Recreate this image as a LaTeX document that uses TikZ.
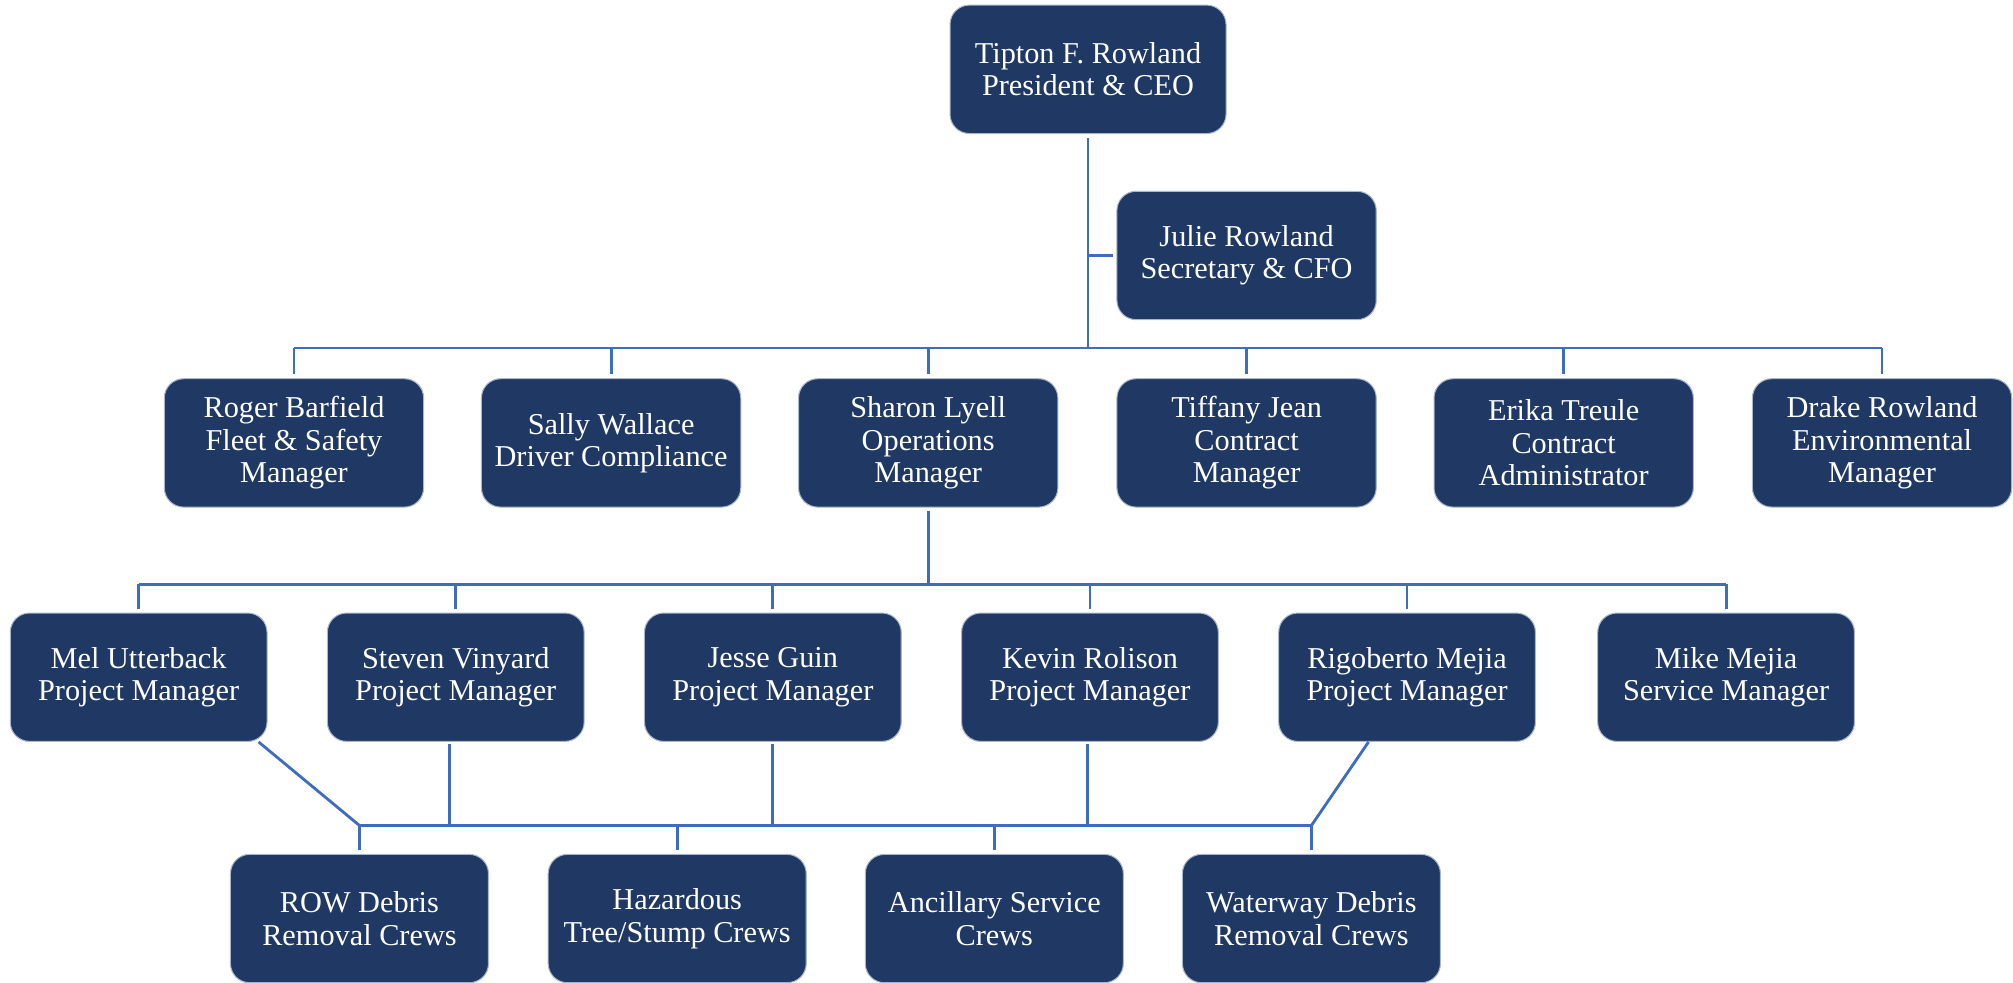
\documentclass[tikz,border=0pt]{standalone}
\usepackage{fontspec}
\setmainfont{Liberation Serif}
\usepackage{tikz}

\begin{document}
\begin{tikzpicture}[x=0.5pt,y=0.5pt,yscale=-1,xscale=1,
  orgbox/.style={draw={rgb,255:red,170;green,182;blue,206},line width=0.4pt,fill={rgb,255:red,32;green,56;blue,100},rounded corners=7.5pt,text=white,align=center,minimum width=101pt,minimum height=50pt,inner sep=1pt,font=\fontsize{11.8}{12.6}\selectfont,execute at begin node={\rule{0pt}{10.6pt}}},
  link/.style={draw={rgb,255:red,64;green,108;blue,190},line width=1.1pt}]
\useasboundingbox (0,0) rectangle (1568,765);

% Text Node
\draw (847.5,54) node [orgbox,minimum width=107.5pt] (ceo) {Tipton F. Rowland\\President \& CEO};
% Text Node
\draw (971,199) node [orgbox] (cfo) {Julie Rowland\\Secretary \& CFO};

% Text Node
\draw (229,345) node [orgbox] (roger) {Roger Barfield\\Fleet \& Safety\\Manager};
% Text Node
\draw (476,345) node [orgbox] (sally) {Sally Wallace\\Driver Compliance};
% Text Node
\draw (723,345) node [orgbox] (sharon) {Sharon Lyell\\Operations\\Manager};
% Text Node
\draw (971,345) node [orgbox] (tiffany) {Tiffany Jean\\Contract\\Manager};
% Text Node
\draw (1218,345) node [orgbox] (erika) {Erika Treule\\Contract\\Administrator};
% Text Node
\draw (1466,345) node [orgbox] (drake) {Drake Rowland\\Environmental\\Manager};

% Text Node
\draw (108,527.5) node [orgbox,minimum width=100pt] (mel) {Mel Utterback\\Project Manager};
% Text Node
\draw (355,527.5) node [orgbox,minimum width=100pt] (steven) {Steven Vinyard\\Project Manager};
% Text Node
\draw (602,527.5) node [orgbox,minimum width=100pt] (jesse) {Jesse Guin\\Project Manager};
% Text Node
\draw (849,527.5) node [orgbox,minimum width=100pt] (kevin) {Kevin Rolison\\Project Manager};
% Text Node
\draw (1096,527.5) node [orgbox,minimum width=100pt] (rigoberto) {Rigoberto Mejia\\Project Manager};
% Text Node
\draw (1344.5,527.5) node [orgbox,minimum width=100pt] (mike) {Mike Mejia\\Service Manager};

% Text Node
\draw (280,715.5) node [orgbox,minimum width=100.5pt] (rowcrews) {ROW Debris\\Removal Crews};
% Text Node
\draw (527.5,715.5) node [orgbox,minimum width=100.5pt] (hazardcrews) {Hazardous\\Tree/Stump Crews};
% Text Node
\draw (774.5,715.5) node [orgbox,minimum width=100.5pt] (ancillarycrews) {Ancillary Service\\Crews};
% Text Node
\draw (1021.5,715.5) node [orgbox,minimum width=100.5pt] (waterwaycrews) {Waterway Debris\\Removal Crews};

%Straight Lines
\coordinate (topbus) at (847.5,271);
\draw [link,shorten <=1.5pt] (ceo.south) -- (topbus);
\draw [link,shorten <=1.5pt] (cfo.west) -- (cfo.west -| ceo.south);
\draw [link] (roger.north |- topbus) -- (drake.north |- topbus);
\foreach \n in {roger,sally,sharon,tiffany,erika,drake}
  \draw [link,shorten <=1.5pt] (\n.north) -- (\n.north |- topbus);

%Straight Lines
\coordinate (midbus) at (723,455);
\draw [link,shorten <=1.5pt] (sharon.south) -- (midbus);
\draw [link] (mel.north |- midbus) -- (mike.north |- midbus);
\foreach \n in {mel,steven,jesse,kevin,rigoberto,mike}
  \draw [link,shorten <=1.5pt] (\n.north) -- (\n.north |- midbus);

%Straight Lines
\coordinate (crewbus) at (280,643);
\draw [link] (rowcrews.north |- crewbus) -- (waterwaycrews.north |- crewbus);
\foreach \n in {rowcrews,hazardcrews,ancillarycrews,waterwaycrews}
  \draw [link,shorten <=1.5pt] (\n.north) -- (\n.north |- crewbus);
\draw [link] ([xshift=-3.5pt]mel.south east) -- (rowcrews.north |- crewbus);
\draw [link,shorten <=1pt] ([xshift=-2.5pt]steven.south) coordinate (stevenfoot) -- (stevenfoot |- crewbus);
\draw [link,shorten <=1pt] (jesse.south) -- (jesse.south |- crewbus);
\draw [link,shorten <=1pt] ([xshift=-1pt]kevin.south) coordinate (kevinfoot) -- (kevinfoot |- crewbus);
\draw [link] ([xshift=-15pt]rigoberto.south) -- (waterwaycrews.north |- crewbus);

\end{tikzpicture}
\end{document}
